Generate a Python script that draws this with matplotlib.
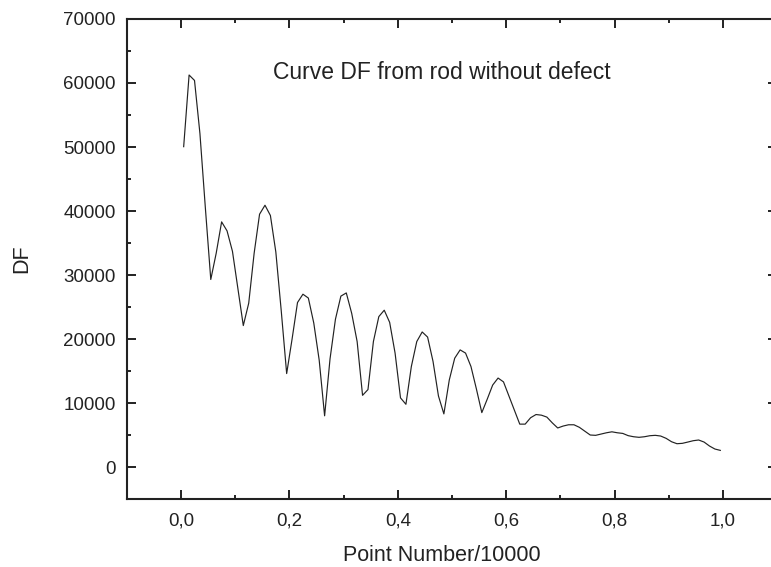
import numpy as np
import matplotlib.pyplot as plt
from matplotlib.ticker import MultipleLocator, FuncFormatter

# point number / 10000, one sample every 0.01
point_start = 0.005
point_step = 0.01

df_values = [
    50050, 61250, 60400, 52100, 40500, 29300, 33400, 38300, 36900, 33700,
    27900, 22100, 25600, 33400, 39500, 40900, 39300, 33600, 24400, 14600,
    20000, 25700, 27000, 26400, 22500, 16700, 8000, 16900, 23100, 26700,
    27200, 24000, 19600, 11200, 12100, 19600, 23500, 24500, 22600, 17800,
    10800, 9800, 15700, 19600, 21100, 20300, 16500, 11100, 8300, 13600,
    17000, 18300, 17800, 15700, 12200, 8500, 10600, 12800, 13900, 13300,
    11100, 8900, 6700, 6700, 7700, 8200, 8100, 7800, 6900, 6100,
    6400, 6600, 6600, 6200, 5600, 5000, 4950, 5150, 5350, 5500,
    5350, 5250, 4900, 4730, 4640, 4730, 4890, 4950, 4840, 4480,
    3950, 3640, 3700, 3900, 4110, 4220, 3900, 3280, 2810, 2600,
]

points = point_start + point_step * np.arange(len(df_values))

plt.rcParams["font.family"] = ["Liberation Sans", "DejaVu Sans"]
ink = "#222222"

fig = plt.figure(figsize=(7.71, 5.67), dpi=100)
ax = fig.add_axes([0.1644, 0.1199, 0.8437, 0.8466])

ax.plot(points, df_values, color=ink, linewidth=0.85)

ax.set_xlim(-0.1, 1.1)
ax.set_ylim(-5000, 70000)

ax.xaxis.set_major_locator(MultipleLocator(0.2))
ax.xaxis.set_minor_locator(MultipleLocator(0.1))
ax.yaxis.set_major_locator(MultipleLocator(10000))
ax.yaxis.set_minor_locator(MultipleLocator(5000))
ax.xaxis.set_major_formatter(FuncFormatter(lambda v, p: f"{v:.1f}".replace(".", ",")))

ax.tick_params(which="both", direction="in", top=True, right=True,
               width=1.4, colors=ink, labelsize=13.5)
ax.tick_params(which="major", length=6.5)
ax.tick_params(which="minor", length=3)
ax.tick_params(axis="x", pad=10)
ax.tick_params(axis="y", pad=8)

for sp in ax.spines.values():
    sp.set_linewidth(1.5)
    sp.set_color(ink)

ax.set_xlabel("Point Number/10000", fontsize=15.5, color=ink)
ax.xaxis.set_label_coords(0.4846, -0.096)
ax.set_ylabel("DF", fontsize=15.5, color=ink)
ax.yaxis.set_label_coords(-0.161, 0.5)
ax.yaxis.label.set_va("center")

ax.text(0.1696, 60600, "Curve DF from rod without defect", fontsize=16.5,
        color=ink, ha="left", va="baseline")

fig.savefig("out.png", dpi=100)
